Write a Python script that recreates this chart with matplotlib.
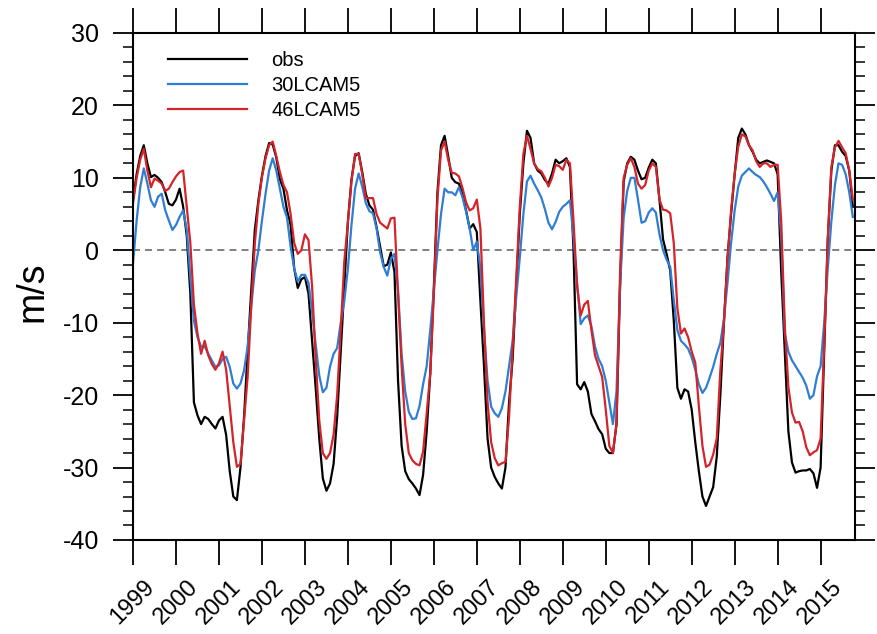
import numpy as np
import matplotlib
matplotlib.use('Agg')
import matplotlib.pyplot as plt
from matplotlib.ticker import MultipleLocator

# monthly zonal wind, Jan 1999 .. Oct 2015, one row per year
obs = [
    7, 10.5, 13, 14.5, 12, 10.1, 10.4, 10, 9.4, 8, 6.4, 6.2,
    7, 8.5, 6, 2, -6, -21, -22.8, -24, -23, -23.3, -24, -24.6,
    -23.5, -23, -25.5, -30.5, -34, -34.5, -30, -23, -14, -5.5, 2.8, 6.9,
    10.3, 13, 14.8, 14.6, 12.8, 9.8, 8.5, 5.5, 3.5, -2.5, -5.2, -4,
    -3.7, -6, -12.5, -19, -26, -31.5, -33.2, -32.2, -29.5, -23, -14, -5,
    4, 9.8, 13, 13.4, 10.8, 7.8, 6.2, 5.6, 3.2, 0.5, -2.2, -2,
    -0.3, -3, -18, -27, -30.5, -31.6, -32.2, -32.9, -33.8, -31, -25, -17,
    -5, 8, 14.5, 15.8, 13, 10, 9.4, 9.2, 7.8, 5.5, 3, 3.6,
    2.5, -7, -16, -26, -30, -31.3, -32.2, -32.9, -30, -21, -15, -5,
    5, 12, 16.5, 15.5, 12, 11, 10.6, 9.7, 9.2, 10.6, 12.5, 12,
    12.3, 12.7, 11.5, 0, -18.5, -19.2, -18.2, -19.5, -22.6, -23.6, -24.7, -25.4,
    -27.4, -28, -28, -24, -5, 9.5, 12, 12.9, 12.5, 11, 9.8, 10,
    11.4, 12.5, 12, 7, 1.5, -0.5, -2.8, -9.7, -19, -20.5, -19.2, -19.5,
    -22, -26.5, -30.5, -34, -35.3, -34, -32.7, -28.5, -20, -10, -1, 5,
    10.5, 15.5, 16.8, 16, 14.5, 13.6, 12.5, 12, 12.2, 12.4, 12.2, 12,
    10.5, -3, -14, -25, -29.3, -30.7, -30.5, -30.4, -30.4, -30.2, -30.8, -32.8,
    -30, -14, 1.5, 11, 14.5, 14.5, 13.6, 13, 11, 6,
]
cam30 = [
    -1.8, 4.1, 8.7, 11.3, 9.2, 6.9, 6, 7.4, 7.8, 5.5, 4.1, 2.8,
    3.5, 4.6, 5.5, 2.8, -3.7, -9.7, -12, -13.3, -13.3, -14.3, -15.2, -16.1,
    -15.9, -15, -14.7, -16.1, -18.4, -19.1, -18.4, -16.6, -13.3, -7.8, -2.8, 0,
    4.1, 7.8, 11, 12.7, 11, 8.5, 6, 4.5, 0.5, -2.5, -4.3, -3.4,
    -3.4, -4.5, -8.5, -13, -17.3, -19.6, -19, -16.1, -14.3, -13.5, -10, -7,
    -2.5, 3.5, 8.5, 10.6, 8.8, 6.5, 5.4, 5.1, 3, -0.3, -2.3, -3.5,
    -1.2, -0.5, -5.5, -14.3, -19.5, -22.3, -23.3, -23.2, -21.5, -18.5, -16, -11,
    -5.5, 0, 5, 8.5, 8, 8, 7.6, 8.7, 7.3, 5.3, 3, 0,
    1.2, -2.5, -11, -18, -21.6, -22.5, -23, -21.8, -19.5, -16, -12.5, -6.5,
    -1, 5, 9.5, 10.3, 9.2, 8.3, 7.3, 5.7, 3.8, 2.9, 3.9, 5.3,
    6, 6.4, 6.9, 1.8, -4.5, -10.2, -9.4, -9, -10.5, -13.3, -15, -16,
    -18, -21, -24, -19.5, -5, 4.5, 8.2, 10, 10, 7, 3.8, 4,
    5.2, 5.8, 5.2, 2.2, 0, -1.3, -2.3, -6.9, -11, -12.5, -13, -13.6,
    -14.8, -16.5, -18.5, -19.7, -19, -17.6, -16.1, -14.3, -12.8, -9.5, -4.5, 1,
    5.5, 8.8, 10.3, 10.8, 11.3, 10.8, 10.4, 10.1, 9.5, 8.7, 7.8, 6.8,
    8, 2, -11.5, -14, -15.2, -16, -16.8, -17.6, -18.7, -20.5, -20, -17.4,
    -16, -10, -2.5, 4, 9, 12, 11.8, 10.5, 8, 4.6,
]
cam46 = [
    6.5, 10, 12.5, 14, 11, 8.7, 9.9, 9.6, 9.2, 8.2, 8.5, 9.4,
    10.2, 10.8, 11, 6, 1, -7.5, -11.5, -14.3, -12.5, -14.5, -15.7, -16.5,
    -15.6, -14, -16.5, -21.5, -26.5, -29.9, -29.5, -23.5, -17.5, -7.8, 0.9, 6.4,
    10.1, 12.7, 14.5, 15, 13, 10.8, 9, 8, 5, 1, -0.5, 0,
    2.2, 1.4, -5, -15, -23.5, -28, -28.8, -28, -25.5, -20, -11, -1.5,
    3.8, 9.5, 13.3, 13.3, 10.5, 7.2, 7.2, 7.2, 5, 3.8, 3.4, 3,
    4.4, 4.5, -6, -16, -24, -28, -29, -29.5, -29.7, -27.8, -22.5, -17,
    -6, 7, 13.8, 15, 12.5, 10.7, 10.6, 10.2, 8.6, 6.6, 5.5, 5.8,
    7, 3, -10, -21, -26.5, -28.7, -29.7, -29.4, -29.2, -23, -13.5, -4,
    6, 13.3, 15.8, 14, 12, 11.2, 10.9, 10, 8.8, 10, 11.8, 11.6,
    11.1, 12.5, 12, 4, -5, -9, -7.5, -7, -11, -14.5, -16, -17.5,
    -22, -27, -28, -24, -3, 10, 11.8, 12.7, 11.5, 9.2, 8.5, 9,
    11, 12, 11.5, 7, 5.6, 5.5, 5.1, 1, -8, -11.5, -10.8, -12,
    -14, -15.5, -21.5, -27, -29.9, -29.6, -28.2, -26, -16.6, -10, -1.3, 5.5,
    10.5, 14.3, 16, 15.7, 14.5, 13.8, 12.3, 11.5, 12, 12, 11.5, 11.8,
    11.8, 4, -10.5, -18.9, -22.4, -23.8, -23.7, -25, -27.2, -28.3, -27.9, -27.6,
    -26, -13, 1.5, 11.5, 14.2, 15.1, 14.2, 13.4, 11, 7,
]
series_names = ['obs', '30LCAM5', '46LCAM5']
series_colors = ['black', '#2f7dd4', '#d42329']
years = list(range(1999, 2016))

plt.rcParams['font.family'] = 'Liberation Sans'
plt.rcParams['axes.unicode_minus'] = False

t = 1999 + np.arange(len(obs)) / 12.0

fig = plt.figure(figsize=(8.77, 6.34), dpi=100)
ax = fig.add_axes([0.1517, 0.1483, 0.8232, 0.7997])

ax.axhline(0, color='#808080', lw=1.4, ls=(0, (3.6, 2.6)), zorder=1)
for vals, name, col in zip([obs, cam30, cam46], series_names, series_colors):
    ax.plot(t, vals, color=col, lw=1.6, label=name, zorder=2)

ax.set_xlim(1999, 2015.8)
ax.set_ylim(-40, 30)
ax.set_xticks(years)
ax.set_xticklabels([str(y) for y in years], rotation=45, ha='center')
ax.yaxis.set_major_locator(MultipleLocator(10))
ax.yaxis.set_minor_locator(MultipleLocator(2))

ax.tick_params(axis='y', which='major', direction='out', left=True, right=True,
               length=14.5, width=1.3, labelsize=18, pad=10)
ax.tick_params(axis='y', which='minor', direction='out', left=True, right=True,
               length=7, width=1.1)
ax.tick_params(axis='x', which='major', direction='out', top=True, bottom=True,
               length=18, width=1.3, labelsize=17, pad=8)
for sp in ax.spines.values():
    sp.set_linewidth(1.5)

ax.set_ylabel('m/s', fontsize=27)
ax.yaxis.set_label_coords(-0.115, 0.49)

ax.legend(loc='upper left', bbox_to_anchor=(0.049, 0.964), frameon=False,
          prop={'size': 14.5}, handlelength=3.9, handletextpad=1.2,
          labelspacing=0.3, borderpad=0, borderaxespad=0)

fig.savefig('out.png', dpi=100)
